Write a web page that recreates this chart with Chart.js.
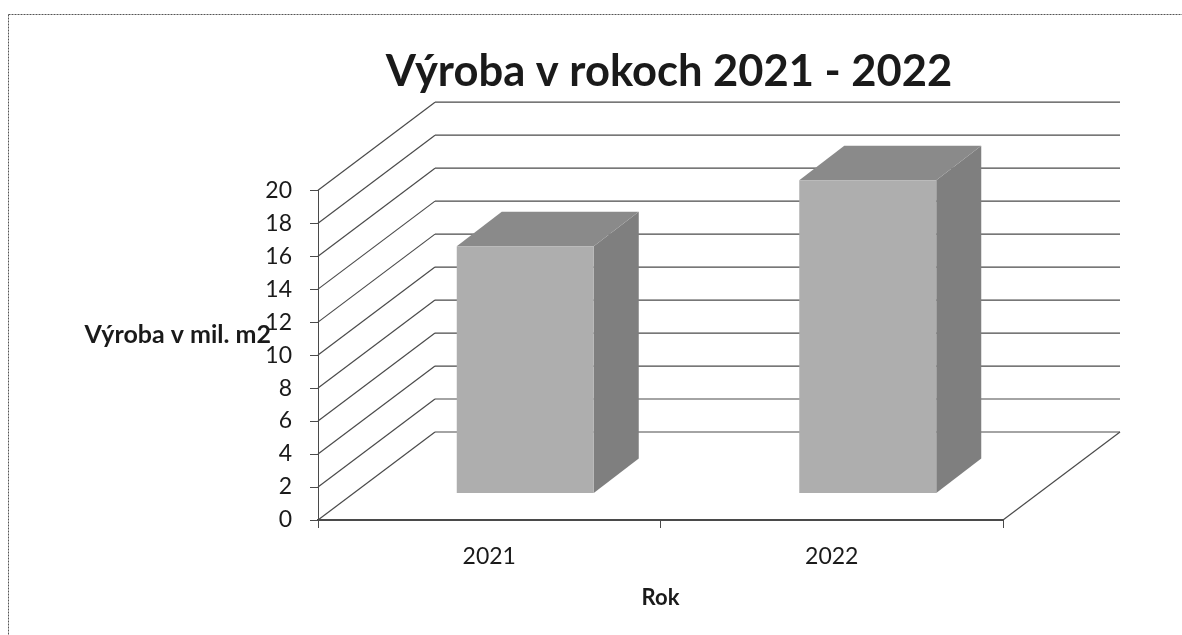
<!DOCTYPE html>
<html>
<head>
<meta charset="utf-8">
<title>Výroba v rokoch 2021 - 2022</title>
<script src="https://cdn.jsdelivr.net/npm/chart.js@4"></script>
<style>
  html, body { margin: 0; padding: 0; background: #fff; }
  canvas { display: block; }
</style>
</head>
<body>
<canvas id="graf" width="1182" height="635"></canvas>
<script>
// data
const roky = ['2021', '2022'];
const vyroba = [15, 19];
const osMin = 0;
const osMax = 20;
const osKrok = 2;

// texty
const nadpis = 'Výroba v rokoch 2021 - 2022';
const nazovX = 'Rok';
const nazovY = 'Výroba v mil. m2';

// hlbka 3D pohladu v pixeloch
const hlbkaX = 117, hlbkaY = -88;
const posunX = 36, posunY = -26.5;
const stlpecX = 45, stlpecY = -34.5;

const ciara = '#4a4a4a';
const pismo = 'Lato, sans-serif';

// jemny raster ako na skene
function raster(a, b) {
  const c = document.createElement('canvas');
  c.width = 4; c.height = 4;
  const g = c.getContext('2d');
  g.fillStyle = a;
  g.fillRect(0, 0, 4, 4);
  g.fillStyle = b;
  g.fillRect(0, 0, 1, 1); g.fillRect(2, 0, 1, 1);
  g.fillRect(1, 1, 1, 1); g.fillRect(3, 1, 1, 1);
  g.fillRect(0, 2, 1, 1); g.fillRect(2, 2, 1, 1);
  g.fillRect(1, 3, 1, 1); g.fillRect(3, 3, 1, 1);
  return g.createPattern(c, 'repeat');
}
const predok = raster('#c2c2c2', '#9a9a9a');
const vrch = raster('#a0a0a0', '#747474');
const bok = raster('#989898', '#666666');

function usecka(ctx, x1, y1, x2, y2) {
  ctx.beginPath();
  ctx.moveTo(x1, y1);
  ctx.lineTo(x2, y2);
  ctx.stroke();
}

const plast = {
  id: 'plast',
  beforeDatasetsDraw(chart) {
    const ctx = chart.ctx, a = chart.chartArea, y = chart.scales.y;
    ctx.save();
    ctx.strokeStyle = ciara;
    ctx.lineWidth = 1.2;
    // steny a podlaha
    y.ticks.forEach(t => {
      const py = y.getPixelForValue(t.value);
      usecka(ctx, a.left, py, a.left + hlbkaX, py + hlbkaY);
      usecka(ctx, a.left + hlbkaX, py + hlbkaY, a.right + hlbkaX, py + hlbkaY);
    });
    usecka(ctx, a.right, a.bottom, a.right + hlbkaX, a.bottom + hlbkaY);
    ctx.restore();

    // boky a vrchy stlpcov, posunute do stredu hlbky
    ctx.save();
    ctx.translate(posunX, posunY);
    chart.getDatasetMeta(0).data.forEach(b => {
      const l = b.x - b.width / 2, r = b.x + b.width / 2;
      ctx.fillStyle = bok;
      ctx.beginPath();
      ctx.moveTo(r, b.y);
      ctx.lineTo(r + stlpecX, b.y + stlpecY);
      ctx.lineTo(r + stlpecX, b.base + stlpecY);
      ctx.lineTo(r, b.base);
      ctx.closePath();
      ctx.fill();
      ctx.fillStyle = vrch;
      ctx.beginPath();
      ctx.moveTo(l, b.y);
      ctx.lineTo(l + stlpecX, b.y + stlpecY);
      ctx.lineTo(r + stlpecX, b.y + stlpecY);
      ctx.lineTo(r, b.y);
      ctx.closePath();
      ctx.fill();
    });
    ctx.restore();

    ctx.save();
    ctx.translate(posunX, posunY);
  },
  afterDatasetsDraw(chart) {
    chart.ctx.restore();
  },
  afterDraw(chart) {
    const ctx = chart.ctx;
    ctx.save();
    // nazov zvislej osi je v povodnom grafe vodorovne
    ctx.fillStyle = '#1a1a1a';
    ctx.font = 'bold 25px ' + pismo;
    ctx.textAlign = 'right';
    ctx.textBaseline = 'middle';
    ctx.fillText(nazovY, 271, 335);
    // ram okolo obrazka
    ctx.strokeStyle = '#555555';
    ctx.setLineDash([2, 1]);
    usecka(ctx, 8.5, 14.5, 1182, 14.5);
    usecka(ctx, 8.5, 14.5, 8.5, 635);
    ctx.restore();
  }
};

new Chart(document.getElementById('graf'), {
  type: 'bar',
  data: {
    labels: roky,
    datasets: [{
      data: vyroba,
      backgroundColor: predok,
      borderWidth: 0,
      barPercentage: 0.4,
      categoryPercentage: 1,
      clip: false
    }]
  },
  plugins: [plast],
  options: {
    responsive: false,
    animation: false,
    layout: { padding: { left: 156, right: 0, top: 0, bottom: 0 } },
    plugins: {
      legend: { display: false },
      tooltip: { enabled: false },
      title: {
        display: true,
        text: nadpis,
        color: '#1a1a1a',
        font: { family: pismo, size: 43.5, weight: 'bold' },
        padding: { top: 46, bottom: 92 }
      }
    },
    scales: {
      x: {
        grid: { drawOnChartArea: false, color: ciara, tickLength: 8 },
        border: { color: ciara, width: 2 },
        ticks: { color: '#1a1a1a', font: { family: pismo, size: 23 }, padding: 15, maxRotation: 0 },
        title: {
          display: true,
          text: nazovX,
          color: '#1a1a1a',
          font: { family: pismo, size: 22, weight: 'bold' },
          padding: { top: 14, bottom: 24 }
        },
        afterFit(s) { s.height = 115; }
      },
      y: {
        min: osMin,
        max: osMax,
        grid: { drawOnChartArea: false, color: ciara, tickLength: 8 },
        border: { color: ciara, width: 1 },
        ticks: { stepSize: osKrok, color: '#1a1a1a', font: { family: pismo, size: 23 }, padding: 18 },
        afterFit(s) { s.width = 162; }
      },
      // prazdna os vpravo, drzi pravy okraj plochy grafu
      okraj: {
        position: 'right',
        min: osMin,
        max: osMax,
        grid: { display: false },
        border: { display: false },
        ticks: { display: false },
        afterFit(s) { s.width = 179; }
      }
    }
  }
});
</script>
</body>
</html>
